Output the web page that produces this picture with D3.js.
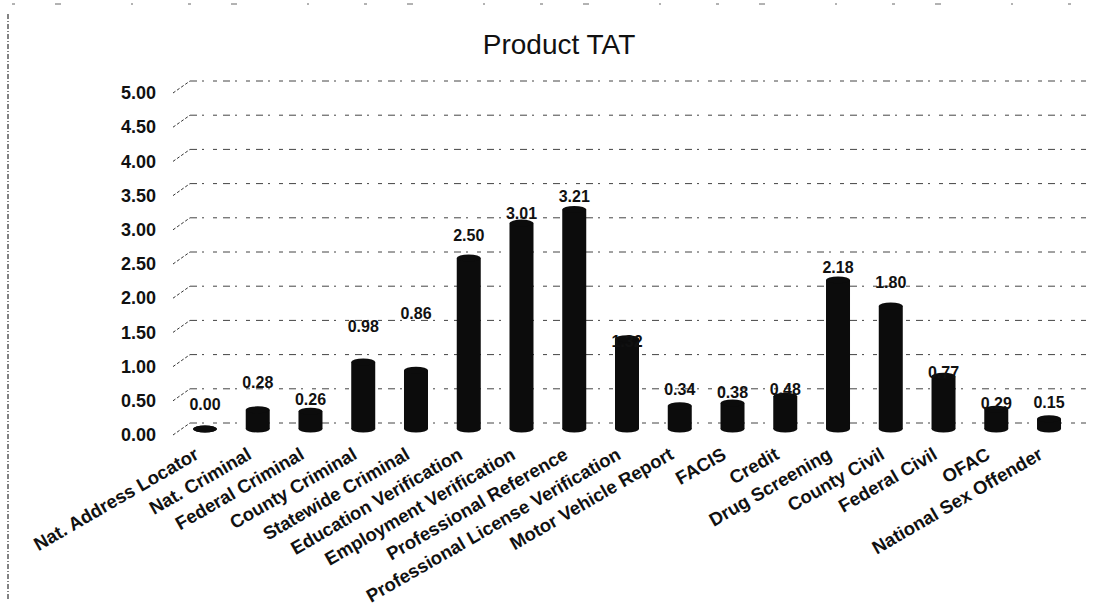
<!DOCTYPE html>
<html>
<head>
<meta charset="utf-8">
<script src="https://cdn.jsdelivr.net/npm/d3@7/dist/d3.min.js"></script>
<style>
  html, body { margin: 0; padding: 0; background: #fff; }
  svg { display: block; }
  text { font-family: "Liberation Sans", Arial, sans-serif; fill: #111; }
</style>
</head>
<body>
<svg id="chart" width="1117" height="614"></svg>
<script>
// Turnaround time per product (days)
const categories = [
  "Nat. Address Locator", "Nat. Criminal", "Federal Criminal", "County Criminal",
  "Statewide Criminal", "Education Verification", "Employment Verification",
  "Professional Reference", "Professional License Verification", "Motor Vehicle Report",
  "FACIS", "Credit", "Drug Screening", "County Civil", "Federal Civil", "OFAC",
  "National Sex Offender"
];
const tatValues = [0.00, 0.28, 0.26, 0.98, 0.86, 2.50, 3.01, 3.21, 1.32, 0.34, 0.38, 0.48, 2.18, 1.80, 0.77, 0.29, 0.15];
const yTicks = [0, 0.5, 1, 1.5, 2, 2.5, 3, 3.5, 4, 4.5, 5];
const chartTitle = "Product TAT";

// vertical lift of each data label above its bar top (px)
const labelLift = [25, 27, 12, 36, 57, 23, 10, 13, -3, 16, 11, 7, 12, 23, 4, 6, 16];

const svg = d3.select("#chart");

// 3D depth offset of the back wall
const depthX = 17, depthY = -12;

const y = d3.scaleLinear().domain([0, 5]).range([435, 93]);
const x = d3.scaleBand().domain(categories).range([178.6, 1075.4]).padding(0);
const barW = 24;
const cx = c => x(c) + x.bandwidth() / 2;

// outer frame
svg.append("line")
  .attr("x1", 8).attr("y1", 14).attr("x2", 8).attr("y2", 600)
  .attr("stroke", "#333").attr("stroke-width", 1.2)
  .attr("stroke-dasharray", "5,2,1,2");
svg.append("line")
  .attr("x1", 12).attr("y1", 4).attr("x2", 1110).attr("y2", 4)
  .attr("stroke", "#666").attr("stroke-width", 1)
  .attr("stroke-dasharray", "3,40,6,70,2,55");

// title
svg.append("text")
  .attr("x", 559).attr("y", 54)
  .attr("text-anchor", "middle")
  .style("font-size", "28px")
  .text(chartTitle);

// gridlines: short perspective stub plus back-wall line
const grid = svg.append("g").attr("class", "grid");
yTicks.forEach(t => {
  const yf = y(t);
  grid.append("line")
    .attr("x1", 173).attr("y1", yf)
    .attr("x2", 173 + depthX).attr("y2", yf + depthY)
    .attr("stroke", "#333").attr("stroke-width", 1)
    .attr("stroke-dasharray", "3,2");
  grid.append("line")
    .attr("x1", 173 + depthX).attr("y1", yf + depthY)
    .attr("x2", 1086).attr("y2", yf + depthY)
    .attr("stroke", "#444").attr("stroke-width", 1)
    .attr("stroke-dasharray", "7,5,2,9,4,6");
});

// y axis tick labels
const yAxis = d3.axisLeft(y).tickValues(yTicks).tickFormat(d3.format(".2f")).tickSize(0).tickPadding(0);
const yg = svg.append("g").attr("transform", "translate(156,0)").call(yAxis);
yg.select(".domain").remove();
yg.selectAll("text")
  .style("font-size", "18px")
  .style("font-weight", "bold")
  .style("font-family", "'Liberation Sans', Arial, sans-serif")
  .attr("fill", "#111");

// cylinders
const baseY = y(0) - 6;
const ry = 3.5;
const bars = svg.append("g").attr("class", "bars");
categories.forEach((c, i) => {
  const v = tatValues[i];
  const topY = y(v) - 6;
  const g = bars.append("g");
  g.append("ellipse")
    .attr("cx", cx(c)).attr("cy", baseY)
    .attr("rx", barW / 2).attr("ry", ry)
    .attr("fill", "#0c0c0c");
  g.append("rect")
    .attr("x", cx(c) - barW / 2).attr("y", topY)
    .attr("width", barW).attr("height", baseY - topY)
    .attr("fill", "#0c0c0c");
  g.append("ellipse")
    .attr("cx", cx(c)).attr("cy", topY)
    .attr("rx", barW / 2).attr("ry", ry)
    .attr("fill", "#0c0c0c");
});

// data labels
const labels = svg.append("g").attr("class", "labels");
categories.forEach((c, i) => {
  const v = tatValues[i];
  labels.append("text")
    .attr("x", cx(c))
    .attr("y", y(v) - 6 - labelLift[i])
    .attr("dy", "0.35em")
    .attr("text-anchor", "middle")
    .style("font-size", "16px")
    .style("font-weight", "bold")
    .text(d3.format(".2f")(v));
});

// category axis labels, rotated
const xLabels = svg.append("g").attr("class", "xlabels");
categories.forEach(c => {
  const ax = cx(c) - 5, ay = 458;
  xLabels.append("text")
    .attr("transform", `translate(${ax},${ay}) rotate(-30)`)
    .attr("text-anchor", "end")
    .style("font-size", "18.5px")
    .style("font-weight", "bold")
    .text(c);
});
</script>
</body>
</html>
